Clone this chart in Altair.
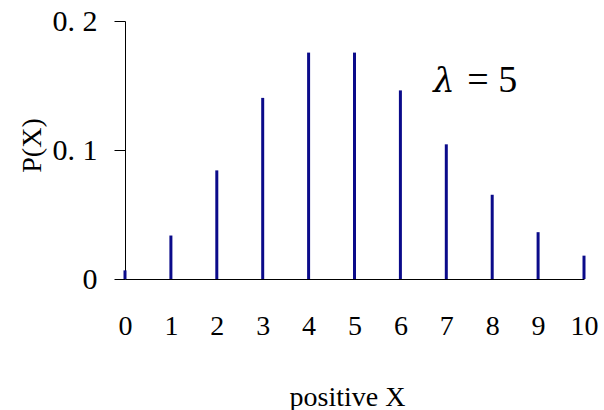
import altair as alt
import pandas as pd

# Poisson probabilities for lambda = 5
xs = [0, 1, 2, 3, 4, 5, 6, 7, 8, 9, 10]
probs = [0.0067, 0.0337, 0.0842, 0.1404, 0.1755, 0.1755, 0.1462, 0.1044, 0.0653, 0.0363, 0.0181]

y_ticks = [0, 0.1, 0.2]
x_ticks = xs

df = pd.DataFrame({"x": xs, "p": probs})

SERIF = "Liberation Serif"

x_scale = alt.Scale(domain=[0, 10], nice=False, zero=False)
y_scale = alt.Scale(domain=[0, 0.2], nice=False)

bars = alt.Chart(df).mark_rule(color="#0b0b8a", strokeWidth=3).encode(
    x=alt.X("x:Q", scale=x_scale,
            axis=alt.Axis(values=x_ticks, ticks=False, labelPadding=33, labelFontSize=28,
                          labelFlush=False, labelOverlap=False,
                          title="positive X", titleX=222, titleY=118,
                          titleBaseline="middle", titleAlign="center")),
    y=alt.Y("p:Q", scale=y_scale,
            axis=alt.Axis(values=y_ticks, tickSize=11, labelPadding=17, labelFontSize=30,
                          labelFlush=False,
                          labelExpr="datum.value == 0 ? '0' : replace(format(datum.value, '.1f'), '.', '. ')",
                          title="P(X)", titleX=-93, titleY=124, titleAngle=-90,
                          titleBaseline="middle", titleAlign="center")),
    y2=alt.datum(0),
)

# lambda = 5 annotation, placed in data coordinates
lam = alt.Chart(pd.DataFrame({"x": [6.95], "y": [0.145], "t": ["λ"]})).mark_text(
    font="DejaVu Serif", fontSize=34, fontStyle="italic", baseline="alphabetic", align="center", color="black"
).encode(x=alt.X("x:Q", scale=x_scale), y=alt.Y("y:Q", scale=y_scale), text="t:N")

eq = alt.Chart(pd.DataFrame({"x": [8.0], "y": [0.145], "t": ["= 5"]})).mark_text(
    font=SERIF, fontSize=38, baseline="alphabetic", align="center", color="black"
).encode(x=alt.X("x:Q", scale=x_scale), y=alt.Y("y:Q", scale=y_scale), text="t:N")

chart = (bars + lam + eq).properties(
    width=459, height=258,
    autosize=alt.AutoSizeParams(type="none"),
    padding={"left": 125, "top": 21, "right": 20, "bottom": 131},
    background="white",
).configure_view(stroke=None).configure_axis(
    grid=False, domainColor="black", domainWidth=1, tickColor="black", tickWidth=1,
    labelFont=SERIF, labelColor="black",
    titleFont=SERIF, titleFontSize=28, titleColor="black", titleFontWeight="normal",
)

chart.save("out.html", embed_options={"renderer": "svg", "actions": False})
